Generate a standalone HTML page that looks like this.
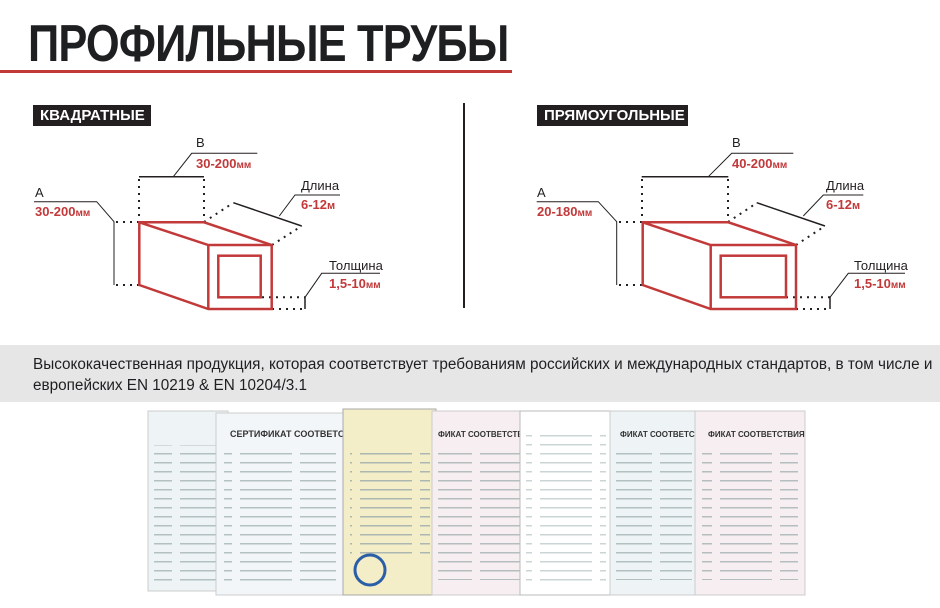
<!DOCTYPE html>
<html><head><meta charset="utf-8"><style>
body{margin:0;width:940px;height:608px;background:#fff;position:relative;overflow:hidden;font-family:"Liberation Sans",sans-serif}
.t{position:absolute;left:28px;top:14px;font-size:52px;font-weight:bold;color:#1e1f21;letter-spacing:-1px;transform:scaleX(0.835);transform-origin:left}
.lab{position:absolute;top:105px;height:21px;background:#231f20;color:#fff;font-weight:bold;font-size:15px;line-height:21px;padding:0 7px;box-sizing:border-box}
.band{position:absolute;left:0;top:345px;width:940px;height:57px;background:#e6e6e6}
.band p{margin:0;position:absolute;left:33px;top:9px;font-size:15.3px;line-height:21px;color:#1e1f21;width:905px}
</style></head><body>
<div class="t">ПРОФИЛЬНЫЕ ТРУБЫ</div>
<div style="position:absolute;left:0;top:70px;width:512px;height:3px;background:#c2393a"></div>
<div class="lab" style="left:33px;width:118px">КВАДРАТНЫЕ</div>
<div class="lab" style="left:537px;width:151px">ПРЯМОУГОЛЬНЫЕ</div>
<div style="position:absolute;left:463px;top:103px;width:2px;height:205px;background:#231f20"></div>
<svg width="940" height="340" style="position:absolute;left:0;top:0" font-family="Liberation Sans,sans-serif">
<g fill="none" stroke="#231f20" stroke-width="1">
<polyline points="34,201.7 96.7,201.7 114,221.7 114,285"/>
<line x1="139" y1="176.7" x2="204" y2="176.7" stroke-width="1.5"/>
<polyline points="173.3,176.7 191.7,153.3 257.3,153.3"/>
<line x1="233.3" y1="202.7" x2="301.7" y2="226" stroke-width="1.5"/>
<polyline points="279.3,216 295,195 340,195"/>
<polyline points="305,297.3 321.7,273.3 380,273.3"/>
<line x1="305" y1="297" x2="305" y2="309" stroke-width="1.5"/>
<g stroke-width="2" stroke-dasharray="2 5">
<line x1="139" y1="179" x2="139" y2="222"/><line x1="204" y1="179" x2="204" y2="222"/>
<line x1="116" y1="222" x2="139" y2="222"/><line x1="116" y1="285" x2="139" y2="285"/>
<line x1="204" y1="222" x2="233" y2="203"/><line x1="272" y1="245" x2="301.7" y2="226"/>
<line x1="262" y1="297.3" x2="305" y2="297.3"/><line x1="272" y1="309" x2="305" y2="309"/>
</g>
<polyline points="536.7,201.7 598.3,201.7 616.7,221.7 616.7,285"/>
<line x1="641.7" y1="176.7" x2="728.3" y2="176.7" stroke-width="1.5"/>
<polyline points="708.3,176.7 731.7,153.3 793.3,153.3"/>
<line x1="756.7" y1="202.7" x2="825" y2="226" stroke-width="1.5"/>
<polyline points="803.3,216 823.3,195 863.3,195"/>
<polyline points="830,297.3 848.3,273.3 905,273.3"/>
<line x1="830" y1="297" x2="830" y2="309" stroke-width="1.5"/>
<g stroke-width="2" stroke-dasharray="2 5">
<line x1="642" y1="179" x2="642" y2="222"/><line x1="728" y1="179" x2="728" y2="222"/>
<line x1="619" y1="222" x2="642" y2="222"/><line x1="619" y1="285" x2="642" y2="285"/>
<line x1="728" y1="222" x2="756.7" y2="203"/><line x1="796" y1="245" x2="825" y2="226"/>
<line x1="786" y1="297.3" x2="830" y2="297.3"/><line x1="796" y1="309" x2="830" y2="309"/>
</g>
</g>
<g fill="none" stroke="#c2393a" stroke-width="2.5" stroke-linejoin="miter">
<polygon points="139.3,222.3 204,222.3 271.7,245 271.7,309 208.3,309 139.3,285"/>
<polyline points="139.3,222.3 208.3,245 271.7,245"/><line x1="208.3" y1="245" x2="208.3" y2="309"/>
<rect x="218.3" y="255.7" width="42.4" height="41.6"/>
<polygon points="642.7,222.3 728.3,222.3 796,245 796,309 710.7,309 642.7,285"/>
<polyline points="642.7,222.3 710.7,245 796,245"/><line x1="710.7" y1="245" x2="710.7" y2="309"/>
<rect x="720.7" y="255.7" width="65.3" height="41.6"/>
</g>
<g font-size="13" fill="#231f20">
<text x="35" y="197">A</text><text x="196" y="147">B</text><text x="301" y="190">Длина</text><text x="329" y="270">Толщина</text>
<text x="537" y="197">A</text><text x="732" y="147">B</text><text x="826" y="190">Длина</text><text x="854" y="270">Толщина</text>
</g>
<g font-size="13" font-weight="bold" fill="#c2393a">
<text x="35" y="216">30-200<tspan font-size="10">мм</tspan></text>
<text x="196" y="168">30-200<tspan font-size="10">мм</tspan></text>
<text x="301" y="209">6-12<tspan font-size="11">м</tspan></text>
<text x="329" y="288">1,5-10<tspan font-size="10">мм</tspan></text>
<text x="537" y="216">20-180<tspan font-size="10">мм</tspan></text>
<text x="732" y="168">40-200<tspan font-size="10">мм</tspan></text>
<text x="826" y="209">6-12<tspan font-size="11">м</tspan></text>
<text x="854" y="288">1,5-10<tspan font-size="10">мм</tspan></text>
</g>
</svg>
<div class="band"><p>Высококачественная продукция, которая соответствует требованиям российских и международных стандартов, в том числе и европейских EN 10219 &amp; EN 10204/3.1</p></div>
<svg width="940" height="200" style="position:absolute;left:0;top:405px">
<defs><pattern id="ln" width="60" height="9" patternUnits="userSpaceOnUse"><rect x="0" y="3" width="52" height="1.5" fill="#9aa"/></pattern></defs>
<rect x="148" y="6" width="80" height="180" fill="#eef4f6" stroke="#ccc"/>
<rect x="154" y="40" width="70" height="140" fill="url(#ln)" opacity=".7"/>
<rect x="216" y="8" width="128" height="182" fill="#f3f6f8" stroke="#ccc"/>
<text x="230" y="32" font-size="9" font-weight="bold" fill="#333" font-family="Liberation Sans,sans-serif">СЕРТИФИКАТ СООТВЕТСТВИЯ</text>
<rect x="224" y="45" width="112" height="135" fill="url(#ln)" opacity=".7"/>
<rect x="343" y="4" width="93" height="186" fill="#f3edc8" stroke="#aaa"/>
<rect x="350" y="45" width="80" height="110" fill="url(#ln)" opacity=".8"/>
<circle cx="370" cy="165" r="15" fill="none" stroke="#2a5fa8" stroke-width="3"/>
<rect x="432" y="6" width="98" height="184" fill="#f6eef0" stroke="#ccc"/>
<text x="438" y="32" font-size="8" font-weight="bold" fill="#333" font-family="Liberation Sans,sans-serif">ФИКАТ СООТВЕТСТВИЯ</text>
<rect x="438" y="45" width="86" height="130" fill="url(#ln)" opacity=".7"/>
<rect x="520" y="6" width="92" height="184" fill="#fff" stroke="#bbb"/>
<rect x="526" y="30" width="80" height="150" fill="url(#ln)" opacity=".5"/>
<rect x="610" y="6" width="88" height="184" fill="#eef4f6" stroke="#ccc"/>
<text x="620" y="32" font-size="8" font-weight="bold" fill="#333" font-family="Liberation Sans,sans-serif">ФИКАТ СООТВЕТСТВИЯ</text>
<rect x="616" y="45" width="76" height="130" fill="url(#ln)" opacity=".7"/>
<rect x="695" y="6" width="110" height="184" fill="#f6eef0" stroke="#ccc"/>
<text x="708" y="32" font-size="8" font-weight="bold" fill="#333" font-family="Liberation Sans,sans-serif">ФИКАТ СООТВЕТСТВИЯ</text>
<rect x="702" y="45" width="96" height="130" fill="url(#ln)" opacity=".7"/>
</svg>
</body></html>
